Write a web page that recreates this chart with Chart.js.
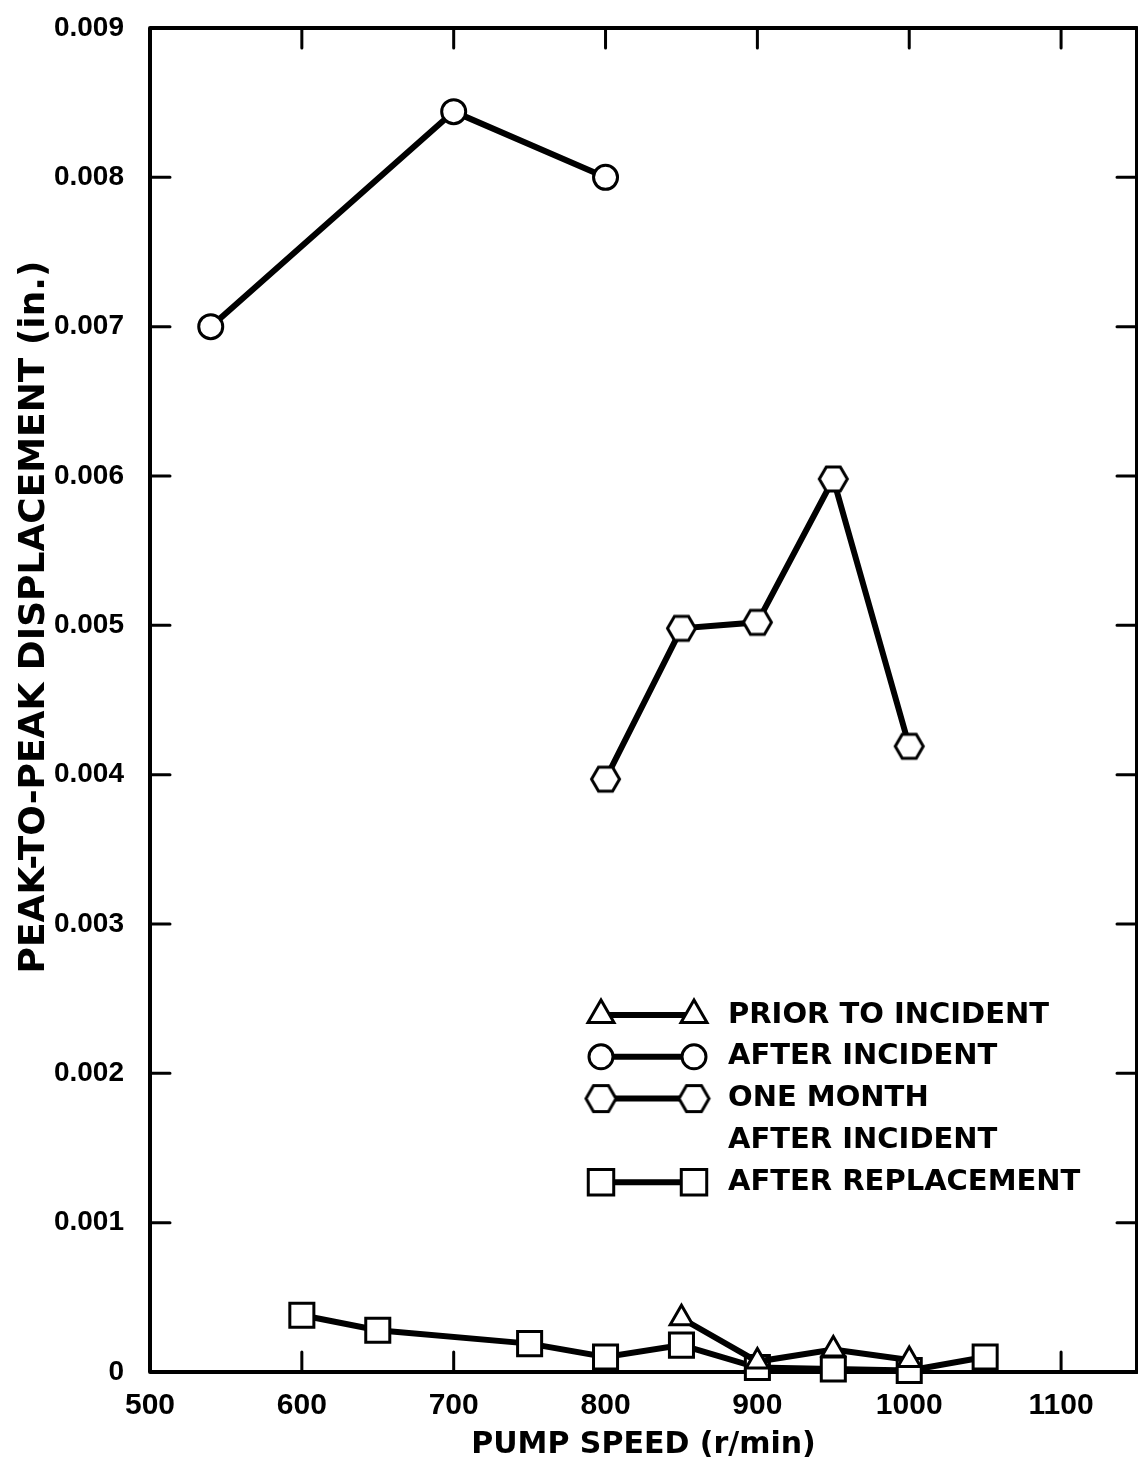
<!DOCTYPE html>
<html>
<head>
<meta charset="utf-8">
<title>Pump displacement vs speed</title>
<script src="https://cdn.jsdelivr.net/npm/chart.js@4.4.1/dist/chart.umd.min.js"></script>
<style>
    html, body { margin: 0; padding: 0; background: #fff; }
    #wrap { width: 1138px; height: 1470px; }
</style>
</head>
<body>
<div id="wrap"><canvas id="pump-chart" width="1138" height="1470"></canvas></div>
<script>
/* ========================================
   Peak-to-peak displacement vs pump speed
   ======================================== */

// Pump speed (r/min) and displacement (in.) for each test series
const priorSpeed = [850, 900, 950, 1000];
const priorDisp = [0.00036, 0.00007, 0.00015, 0.00008];

const afterSpeed = [540, 700, 800];
const afterDisp = [0.0070, 0.00844, 0.0080];

const monthSpeed = [800, 850, 900, 950, 1000];
const monthDisp = [0.00397, 0.00498, 0.00502, 0.00598, 0.00419];

const replSpeed = [600, 650, 750, 800, 850, 900, 950, 1000, 1050];
const replDisp = [0.00038, 0.00028, 0.00019, 0.0001, 0.00018, 0.00003, 0.00002, 0.00001, 0.0001];

const xTickValues = [500, 600, 700, 800, 900, 1000, 1100];
const yTickValues = [0, 0.001, 0.002, 0.003, 0.004, 0.005, 0.006, 0.007, 0.008, 0.009];

const legendLabels = [
    ['PRIOR TO INCIDENT'],
    ['AFTER INCIDENT'],
    ['ONE MONTH', 'AFTER INCIDENT'],
    ['AFTER REPLACEMENT']
];

const xTitle = 'PUMP SPEED (r/min)';
const yTitle = 'PEAK-TO-PEAK DISPLACEMENT (in.)';

const toPoints = (xs, ys) => xs.map((x, i) => ({ x: x, y: ys[i] }));

// Chart.js has no hexagon, so build one as an image point style
function makeHexagon(r, lw) {
    const c = document.createElement('canvas');
    c.width = Math.ceil(2 * r + lw + 2);
    c.height = Math.ceil(Math.sqrt(3) * r + lw + 2);
    const g = c.getContext('2d');
    g.translate(c.width / 2, c.height / 2);
    g.beginPath();
    for (let i = 0; i < 6; i++) {
        const a = Math.PI / 3 * i;
        const px = r * Math.cos(a), py = r * Math.sin(a);
        if (i === 0) g.moveTo(px, py); else g.lineTo(px, py);
    }
    g.closePath();
    g.fillStyle = '#fff';
    g.fill();
    g.lineWidth = lw;
    g.strokeStyle = '#000';
    g.stroke();
    return c;
}

const hexPoint = makeHexagon(14, 3);
const hexLegend = makeHexagon(15, 3);

const lineStyle = {
    borderColor: '#000',
    borderWidth: 6,
    tension: 0,
    pointBackgroundColor: '#fff',
    pointBorderColor: '#000',
    pointBorderWidth: 3,
    clip: false,
};

// legend marker look, per dataset
const legendMarks = [
    { pointStyle: 'triangle', radius: 15 },
    { pointStyle: 'circle', radius: 12 },
    { pointStyle: hexLegend, radius: 15 },
    { pointStyle: 'rect', radius: 18 },
];

// Frame with inward ticks on all four sides
const framePlugin = {
    id: 'frame',
    beforeDatasetsDraw(chart) {
        const { ctx, chartArea: a, scales } = chart;
        ctx.save();
        ctx.strokeStyle = '#000';
        ctx.lineCap = 'round';
        ctx.lineWidth = 3;
        const tick = 20;
        xTickValues.forEach(v => {
            const px = scales.x.getPixelForValue(v);
            if (px <= a.left + 1) return;
            ctx.beginPath();
            ctx.moveTo(px, a.bottom); ctx.lineTo(px, a.bottom - tick);
            ctx.moveTo(px, a.top); ctx.lineTo(px, a.top + tick);
            ctx.stroke();
        });
        yTickValues.forEach(v => {
            const py = scales.y.getPixelForValue(v);
            if (py <= a.top + 1 || py >= a.bottom - 1) return;
            ctx.beginPath();
            ctx.moveTo(a.left, py); ctx.lineTo(a.left + tick, py);
            ctx.moveTo(a.right, py); ctx.lineTo(a.right - tick, py);
            ctx.stroke();
        });
        ctx.lineWidth = 4;
        ctx.lineJoin = 'round';
        ctx.strokeRect(a.left, a.top, a.right - a.left, a.bottom - a.top);
        ctx.restore();
    },
    afterDraw(chart) {
        const { ctx } = chart;
        ctx.save();
        ctx.fillStyle = '#000';
        ctx.font = 'bold 36px "DejaVu Sans"';
        ctx.textAlign = 'center';
        ctx.textBaseline = 'middle';
        ctx.translate(35, 617);
        ctx.rotate(-Math.PI / 2);
        ctx.fillText(yTitle, 0, 0);
        ctx.restore();
    }
};

// Legend drawn inside the plot: marker - line - marker, then label
const innerLegend = {
    id: 'innerLegend',
    afterDatasetsDraw(chart) {
        const { ctx } = chart;
        const x1 = 601, x2 = 694, textX = 728;
        const lineStep = 41.8;
        let y = 1015;
        ctx.save();
        ctx.font = 'bold 29px "DejaVu Sans"';
        ctx.textBaseline = 'middle';
        chart.data.datasets.forEach((ds, i) => {
            ctx.strokeStyle = '#000';
            ctx.lineWidth = 6;
            ctx.beginPath();
            ctx.moveTo(x1, y); ctx.lineTo(x2, y);
            ctx.stroke();
            const m = legendMarks[i];
            ctx.fillStyle = '#fff';
            ctx.lineWidth = 3;
            [x1, x2].forEach(px => {
                Chart.helpers.drawPoint(ctx, { pointStyle: m.pointStyle, radius: m.radius, rotation: 0, borderWidth: 3 }, px, y);
            });
            ctx.fillStyle = '#000';
            const lines = Array.isArray(ds.label) ? ds.label : [ds.label];
            lines.forEach(t => {
                ctx.fillText(t, textX, y);
                y += lineStep;
            });
        });
        ctx.restore();
    }
};

const tickFont = (family, size) => ({ family: family, size: size, weight: 'bold' });

new Chart(document.getElementById('pump-chart'), {
    type: 'line',
    data: {
        datasets: [
            Object.assign({
                label: legendLabels[0],
                data: toPoints(priorSpeed, priorDisp),
                pointStyle: 'triangle',
                pointRadius: 13,
            }, lineStyle),
            Object.assign({
                label: legendLabels[1],
                data: toPoints(afterSpeed, afterDisp),
                pointStyle: 'circle',
                pointRadius: 12,
            }, lineStyle),
            Object.assign({
                label: legendLabels[2],
                data: toPoints(monthSpeed, monthDisp),
                pointStyle: hexPoint,
                pointRadius: 14,
            }, lineStyle),
            Object.assign({
                label: legendLabels[3],
                data: toPoints(replSpeed, replDisp),
                pointStyle: 'rect',
                pointRadius: 17,
            }, lineStyle),
        ]
    },
    options: {
        responsive: false,
        animation: false,
        devicePixelRatio: 1,
        layout: {
            autoPadding: false,
            padding: { top: 28, right: 1, bottom: 0, left: 0 },
        },
        plugins: {
            legend: { display: false },
            tooltip: { enabled: false },
        },
        scales: {
            x: {
                type: 'linear',
                min: 500,
                max: 1150,
                afterBuildTicks: (s) => { s.ticks = xTickValues.map(v => ({ value: v })); },
                afterFit: (s) => {
                    s.height = 98;
                    s.paddingLeft = 0;
                    s.paddingRight = 0;
                },
                grid: { display: false, drawTicks: false },
                border: { display: false },
                ticks: {
                    color: '#000',
                    padding: 16,
                    autoSkip: false,
                    maxRotation: 0,
                    font: tickFont('"Liberation Sans", Arial', 30),
                    callback: (v) => String(v),
                },
                title: {
                    display: true,
                    text: xTitle,
                    color: '#000',
                    font: tickFont('"DejaVu Sans"', 30),
                    padding: { top: 0, bottom: 7 },
                },
            },
            y: {
                type: 'linear',
                min: 0,
                max: 0.009,
                afterBuildTicks: (s) => { s.ticks = yTickValues.map(v => ({ value: v })); },
                afterFit: (s) => {
                    s.width = 150;
                    s.paddingTop = 0;
                    s.paddingBottom = 0;
                },
                grid: { display: false, drawTicks: false },
                border: { display: false },
                ticks: {
                    color: '#000',
                    padding: 26,
                    autoSkip: false,
                    font: tickFont('"Liberation Sans", Arial', 28),
                    callback: (v) => v === 0 ? '0' : v.toFixed(3),
                },
            },
        },
    },
    plugins: [framePlugin, innerLegend],
});
</script>
</body>
</html>
